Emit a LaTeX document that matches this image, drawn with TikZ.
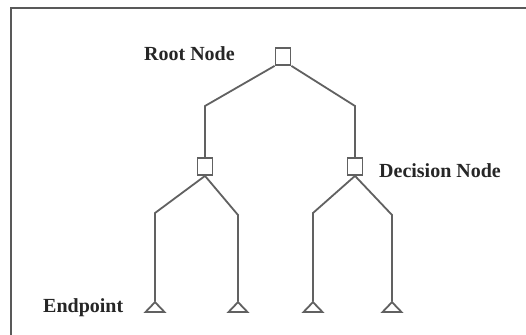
\documentclass[tikz,border=0pt]{standalone}
\usepackage{fontspec}
\setmainfont{Liberation Serif}
\usetikzlibrary{shapes.geometric}
\begin{document}
\begin{tikzpicture}[x=1pt,y=-1pt,
  line/.style={draw=black!62,line width=1.8pt},
  box/.style={line,rectangle,minimum width=15pt,minimum height=17pt,inner sep=0pt},
  leaf/.style={line,isosceles triangle,isosceles triangle stretches,shape border rotate=90,minimum width=19pt,minimum height=10pt,inner sep=0pt},
  lbl/.style={font=\bfseries\fontsize{20}{23}\selectfont,text=black!85,inner sep=0pt,anchor=west}]
\useasboundingbox (0,0) rectangle (526,334);
\clip (0,0) rectangle (526,334);
\fill[white] (0,0) rectangle (526,334);
\draw[draw=black!65,line width=1.8pt] (11,340) -- (11,8) -- (530,8);
% nodes
\node[box] (root) at (283,56.5) {};
\node[box] (d1) at (205,166.5) {};
\node[box] (d2) at (355,166.5) {};
\node[leaf] (e1) at (155,308) {};
\node[leaf] (e2) at (238,308) {};
\node[leaf] (e3) at (313,308) {};
\node[leaf] (e4) at (392,308) {};
% labels
\node[lbl] (lroot) at (144,54) {Root Node};
\node[lbl] (ldec) at (379,171) {Decision Node};
\node[lbl] (lend) at (43,308) {Endpoint};
% connectors
\draw[line] (root.south west) -- (d1.north |- 0,106) -- (d1.north);
\draw[line] (root.south east) -- (d2.north |- 0,106) -- (d2.north);
\draw[line] (d1.south) -- (e1.north |- 0,213) -- ([yshift=-2pt]e1.north);
\draw[line] (d1.south) -- (e2.north |- 0,215) -- ([yshift=-2pt]e2.north);
\draw[line] (d2.south) -- (e3.north |- 0,213) -- ([yshift=-2pt]e3.north);
\draw[line] (d2.south) -- (e4.north |- 0,215) -- ([yshift=-2pt]e4.north);
\end{tikzpicture}
\end{document}
